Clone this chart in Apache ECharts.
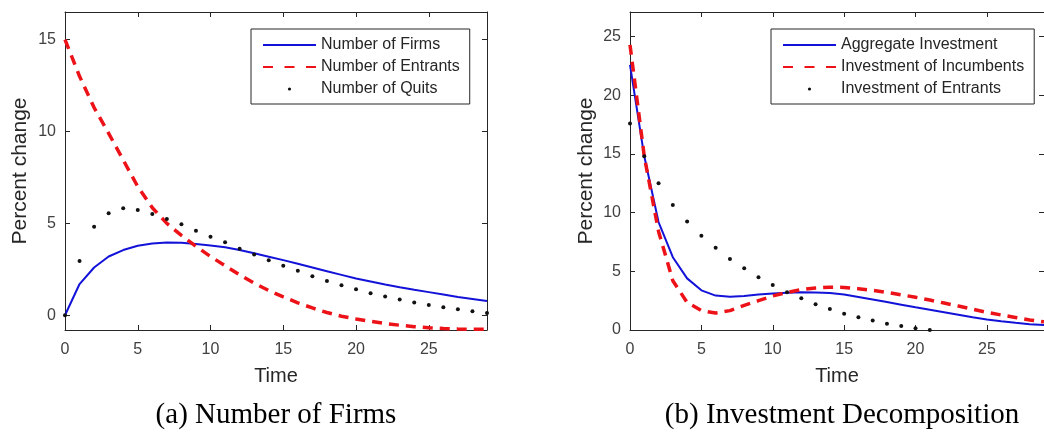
<!DOCTYPE html>
<html><head><meta charset="utf-8">
<script src="https://cdn.jsdelivr.net/npm/echarts@6/dist/echarts.min.js"></script>
<style>html,body{margin:0;padding:0;background:#fff}#c{width:1044px;height:434px}</style>
</head><body><div id="c"></div>
<script>
// ---------- data ----------
const time = [0,1,2,3,4,5,6,7,8,9,10,11,12,13,14,15,16,17,18,19,20,21,22,23,24,25,26,27,28,29];
const firms = [0, 1.7, 2.6, 3.2, 3.55, 3.78, 3.9, 3.96, 3.95, 3.88, 3.8, 3.7, 3.55, 3.38, 3.19, 3.0, 2.8, 2.6, 2.4, 2.2, 2.0, 1.84, 1.68, 1.53, 1.39, 1.26, 1.13, 1.0, 0.89, 0.78];
const entrants = [15.0, 13.0, 11.3, 9.9, 8.45, 7.0, 5.85, 5.0, 4.35, 3.75, 3.2, 2.7, 2.2, 1.75, 1.35, 1.0, 0.68, 0.4, 0.15, -0.05, -0.2, -0.33, -0.45, -0.54, -0.62, -0.68, -0.72, -0.75, -0.76, -0.76];
const quits = [0, 2.95, 4.82, 5.55, 5.82, 5.73, 5.51, 5.24, 4.95, 4.6, 4.27, 3.97, 3.62, 3.31, 3.0, 2.69, 2.42, 2.13, 1.87, 1.64, 1.42, 1.2, 1.02, 0.86, 0.69, 0.56, 0.44, 0.33, 0.22, 0.13];
const aggInv = [22.6, 14.8, 9.2, 6.2, 4.4, 3.38, 2.93, 2.84, 2.9, 3.02, 3.12, 3.18, 3.21, 3.2, 3.16, 3.03, 2.82, 2.6, 2.38, 2.16, 1.93, 1.72, 1.51, 1.3, 1.09, 0.9, 0.74, 0.61, 0.5, 0.42];
const incInv = [24.3, 14.8, 8.4, 4.2, 2.35, 1.65, 1.45, 1.65, 2.1, 2.5, 2.9, 3.2, 3.45, 3.58, 3.65, 3.63, 3.52, 3.38, 3.2, 3.0, 2.79, 2.55, 2.3, 2.04, 1.78, 1.5, 1.28, 1.07, 0.85, 0.7];
const entInv = [17.6, 14.8, 12.5, 10.65, 9.24, 8.04, 7.02, 6.05, 5.26, 4.49, 3.84, 3.21, 2.7, 2.2, 1.79, 1.39, 1.08, 0.8, 0.54, 0.34, 0.14, 0.01];
const xTicks = [0, 5, 10, 15, 20, 25];
const yTicksA = [0, 5, 10, 15];
const yTicksB = [0, 5, 10, 15, 20, 25];
const namesA = ['Number of Firms', 'Number of Entrants', 'Number of Quits'];
const namesB = ['Aggregate Investment', 'Investment of Incumbents', 'Investment of Entrants'];
const captions = ['(a) Number of Firms', '(b) Investment Decomposition'];

// ---------- style ----------
const SANS = 'Liberation Sans, Arial, sans-serif';
const AX = '#262626';
const BLUE = '#1212d8';
const RED = '#ec1218';
const pairs = (vals) => vals.map((v, i) => [time[i], v]);

function xAx(grid, pos) {
  return {
    type: 'value', gridIndex: grid, position: pos, min: 0, max: 29,
    axisLine: { show: true, onZero: false, lineStyle: { color: AX, width: 1 } },
    axisTick: { show: true, inside: true, length: 5, customValues: xTicks, lineStyle: { color: AX } },
    axisLabel: { show: pos === 'bottom', customValues: xTicks, fontSize: 16, color: '#404040', margin: 12, fontFamily: SANS },
    splitLine: { show: false },
    name: pos === 'bottom' ? 'Time' : '', nameLocation: 'middle', nameGap: 36,
    nameTextStyle: { fontSize: 20, color: AX, fontFamily: SANS }
  };
}
function yAx(grid, pos, min, max, ticks, gap) {
  return {
    type: 'value', gridIndex: grid, position: pos, min: min, max: max,
    axisLine: { show: true, onZero: false, lineStyle: { color: AX, width: 1 } },
    axisTick: { show: true, inside: true, length: 5, customValues: ticks, lineStyle: { color: AX } },
    axisLabel: { show: pos === 'left', customValues: ticks, fontSize: 16, color: '#404040', margin: 9, fontFamily: SANS },
    splitLine: { show: false },
    name: pos === 'left' ? 'Percent change' : '', nameLocation: 'middle', nameGap: gap,
    nameTextStyle: { fontSize: 21, color: AX, fontFamily: SANS }
  };
}
function solid(name, vals, xi, yi) {
  return { type: 'line', name, data: pairs(vals), xAxisIndex: xi, yAxisIndex: yi, symbol: 'none',
    lineStyle: { color: BLUE, width: 2 }, itemStyle: { color: BLUE }, z: 2 };
}
function dashed(name, vals, xi, yi) {
  return { type: 'line', name, data: pairs(vals), xAxisIndex: xi, yAxisIndex: yi, symbol: 'none',
    lineStyle: { color: RED, width: 3.5, type: [10, 7] }, itemStyle: { color: RED }, z: 3 };
}
function dots(name, vals, xi, yi) {
  return { type: 'line', name, data: pairs(vals), xAxisIndex: xi, yAxisIndex: yi, symbol: 'circle', symbolSize: 4,
    showSymbol: true, showAllSymbol: true, clip: true,
    lineStyle: { width: 0, color: '#111' }, itemStyle: { color: '#111' }, z: 4 };
}
function legend(names, left) {
  return {
    orient: 'vertical', left: left, top: 29, selectedMode: false,
    data: [
      { name: names[0], itemStyle: { opacity: 0 } },
      { name: names[1], itemStyle: { opacity: 0 }, lineStyle: { type: [10, 11.5] } },
      { name: names[2] }
    ],
    itemWidth: 53, itemHeight: 4, itemGap: 6, padding: [8, 10, 7, 11],
    borderColor: AX, borderWidth: 1, backgroundColor: '#fff', borderRadius: 0,
    textStyle: { fontSize: 16, color: AX, fontFamily: SANS }
  };
}

const chart = echarts.init(document.getElementById('c'), null, { renderer: 'canvas' });
chart.setOption({
  animation: false,
  backgroundColor: '#fff',
  grid: [
    { left: 65, top: 12, width: 422, height: 318 },
    { left: 630, top: 12, width: 422, height: 318 }
  ],
  xAxis: [xAx(0, 'bottom'), xAx(0, 'top'), xAx(1, 'bottom'), xAx(1, 'top')],
  yAxis: [
    yAx(0, 'left', -0.8, 16.5, yTicksA, 34), yAx(0, 'right', -0.8, 16.5, yTicksA, 34),
    yAx(1, 'left', 0, 27.1, yTicksB, 33), yAx(1, 'right', 0, 27.1, yTicksB, 33)
  ],
  legend: [legend(namesA, 251), legend(namesB, 771)],
  title: [
    { text: captions[0], left: 276, top: 401, textAlign: 'center', padding: 0,
      textStyle: { fontFamily: 'Liberation Serif, serif', fontSize: 29, fontWeight: 'normal', color: '#000' } },
    { text: captions[1], left: 842, top: 401, textAlign: 'center', padding: 0,
      textStyle: { fontFamily: 'Liberation Serif, serif', fontSize: 29, fontWeight: 'normal', color: '#000' } }
  ],
  series: [
    solid(namesA[0], firms, 0, 0),
    dashed(namesA[1], entrants, 0, 0),
    dots(namesA[2], quits, 0, 0),
    solid(namesB[0], aggInv, 2, 2),
    dashed(namesB[1], incInv, 2, 2),
    dots(namesB[2], entInv, 2, 2)
  ]
});
</script></body></html>
